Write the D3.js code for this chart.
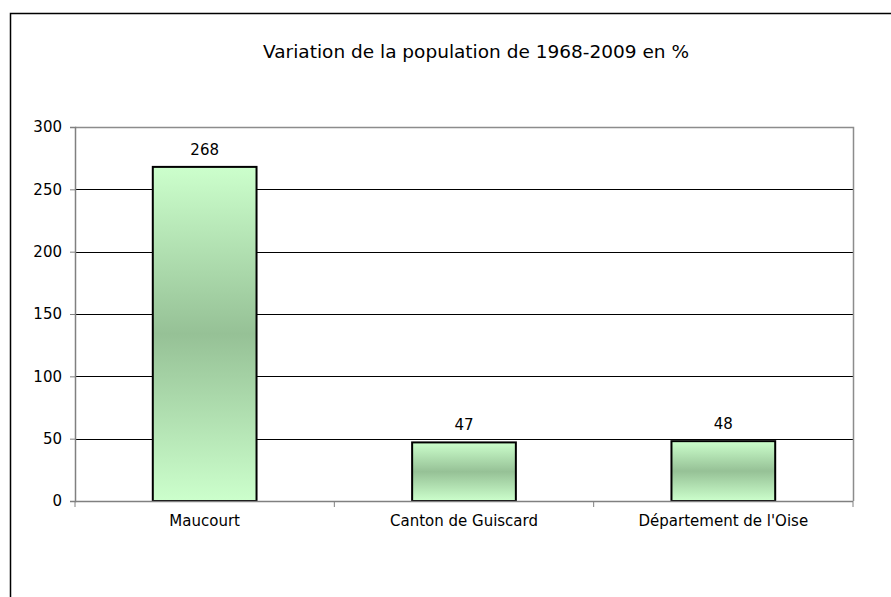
<!DOCTYPE html>
<html><head><meta charset="utf-8">
<script src="https://cdn.jsdelivr.net/npm/d3@7"></script>
<style>body{margin:0;background:#fff}svg{display:block}text{font-family:"DejaVu Sans",Arial,sans-serif;fill:#000}</style>
</head><body>
<script>
const categories = ["Maucourt", "Canton de Guiscard", "Département de l'Oise"];
const values = [268, 47, 48];
const yTicks = [0, 50, 100, 150, 200, 250, 300];
const title = "Variation de la population de 1968-2009 en %";

const W = 891, H = 597;
const m = {left: 75, top: 127, right: 853, bottom: 501};
const FONT = "DejaVu Sans, Arial, sans-serif";
const svg = d3.select("body").append("svg").attr("width", W).attr("height", H);

// outer frame
svg.append("path").attr("d", `M10.5,${H+2} V13.5 H${W+2}`).attr("fill","none").attr("stroke","#000").attr("stroke-width",1.5);

const x = d3.scaleBand().domain(categories).range([m.left, m.right]).paddingInner(0.6).paddingOuter(0.3);
const y = d3.scaleLinear().domain([0, 300]).range([m.bottom, m.top]);

const defs = svg.append("defs");
const g = defs.append("linearGradient").attr("id","bg").attr("x1",0).attr("y1",0).attr("x2",0).attr("y2",1);
g.append("stop").attr("offset","0%").attr("stop-color","#ccffcc");
g.append("stop").attr("offset","50%").attr("stop-color","#96c196");
g.append("stop").attr("offset","100%").attr("stop-color","#ccffcc");

// gridlines
svg.append("g").selectAll("line").data(yTicks.filter(t => t > 0 && t < 300)).join("line")
  .attr("x1", m.left).attr("x2", m.right).attr("y1", d => Math.round(y(d))+0.5).attr("y2", d => Math.round(y(d))+0.5)
  .attr("stroke","#000").attr("stroke-width",1);
// plot border top/right
svg.append("path").attr("d", `M${m.left},${m.top+0.5} H${m.right+0.5} V${m.bottom}`).attr("fill","none").attr("stroke","#8c8c8c").attr("stroke-width",1.5);

// y axis
const yAxis = svg.append("g").attr("transform", `translate(${m.left},0)`)
  .call(d3.axisLeft(y).tickValues(yTicks).tickSize(5).tickPadding(8));
yAxis.select(".domain").attr("stroke","#808080").attr("stroke-width",1.5);
yAxis.selectAll(".tick line").attr("stroke","#808080");
yAxis.selectAll(".tick text").attr("font-size","15px").attr("font-family",FONT).attr("fill","#000");

// bars
svg.append("g").selectAll("rect").data(values).join("rect")
  .attr("x", (d,i) => x(categories[i])).attr("width", x.bandwidth())
  .attr("y", d => y(d)).attr("height", d => y(0) - y(d))
  .attr("fill","url(#bg)").attr("stroke","#000").attr("stroke-width",2);

// x axis
const xAxis = svg.append("g");
xAxis.append("line").attr("x1", m.left).attr("x2", m.right).attr("y1", m.bottom+0.5).attr("y2", m.bottom+0.5).attr("stroke","#808080").attr("stroke-width",1.5);
xAxis.selectAll("line.t").data(d3.range(categories.length+1)).join("line").attr("class","t")
  .attr("x1", i => m.left + i*(m.right-m.left)/categories.length).attr("x2", i => m.left + i*(m.right-m.left)/categories.length)
  .attr("y1", m.bottom).attr("y2", m.bottom+6).attr("stroke","#808080");
xAxis.selectAll("text").data(categories).join("text")
  .attr("x", d => x(d) + x.bandwidth()/2).attr("y", 526).attr("text-anchor","middle").attr("font-size","15px").text(d => d);

// value labels
svg.append("g").selectAll("text").data(values).join("text")
  .attr("x", (d,i) => x(categories[i]) + x.bandwidth()/2).attr("y", d => y(d) - 12)
  .attr("text-anchor","middle").attr("font-size","15px").text(d => d);

// title
svg.append("text").attr("x", 476).attr("y", 58).attr("text-anchor","middle").attr("font-size","18.5px").text(title);
</script>
</body></html>
